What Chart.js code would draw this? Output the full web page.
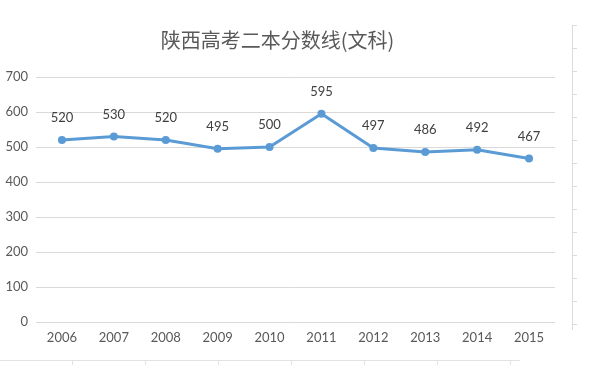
<!DOCTYPE html>
<html>
<head>
<meta charset="utf-8">
<script src="https://cdn.jsdelivr.net/npm/chart.js@4"></script>
<style>
  html, body { margin: 0; padding: 0; background: #fff; }
  #wrap { position: relative; width: 616px; height: 389px; overflow: hidden; }
  #box { position: absolute; left: 0; top: 0; width: 567px; height: 389px; }
  /* spreadsheet cell borders around the chart */
  #vline { position: absolute; left: 572px; top: 25px; width: 1px; height: 305px; background: #dcdcdc; }
  #hline { position: absolute; left: 0; top: 360px; width: 520px; height: 1px; background: #e2e2e2; }
</style>
</head>
<body>
<div id="wrap">
  <div id="box"><canvas id="chart"></canvas></div>
  <div id="vline"></div>
  <div id="hline"></div>
</div>
<script>
// data
const years = ['2006', '2007', '2008', '2009', '2010', '2011', '2012', '2013', '2014', '2015'];
const scores = [520, 530, 520, 495, 500, 595, 497, 486, 492, 467];
const yTicks = [0, 100, 200, 300, 400, 500, 600, 700];

const fontFamily = 'Lato, "Noto Sans", "Noto Sans CJK SC", sans-serif';

// little tick marks on the spreadsheet borders
(function() {
    const wrap = document.getElementById('wrap');
    for (let y = 25; y < 330; y += 23) {
        const t = document.createElement('div');
        t.style.cssText = 'position:absolute;left:572px;width:5px;height:1px;background:#dcdcdc;top:' + y + 'px';
        wrap.appendChild(t);
    }
    for (let x = 72; x < 520; x += 73) {
        const t = document.createElement('div');
        t.style.cssText = 'position:absolute;top:360px;width:1px;height:5px;background:#e2e2e2;left:' + x + 'px';
        wrap.appendChild(t);
    }
})();

// values written above each point
const valueLabels = {
    id: 'valueLabels',
    afterDatasetsDraw(chart) {
        const ctx = chart.ctx;
        const meta = chart.getDatasetMeta(0);
        ctx.save();
        ctx.font = '13px ' + fontFamily;
        ctx.fillStyle = '#404040';
        ctx.textAlign = 'center';
        ctx.textBaseline = 'middle';
        meta.data.forEach((pt, i) => {
            ctx.fillText(String(chart.data.datasets[0].data[i]), pt.x, pt.y - 22);
        });
        ctx.restore();
    }
};

const ctx = document.getElementById('chart').getContext('2d');
new Chart(ctx, {
    type: 'line',
    data: {
        labels: years,
        datasets: [{
            label: '二本分数线',
            data: scores,
            borderColor: '#5b9bd5',
            backgroundColor: '#5b9bd5',
            borderWidth: 3,
            pointRadius: 4,
            pointBorderWidth: 0,
            tension: 0
        }]
    },
    options: {
        responsive: true,
        maintainAspectRatio: false,
        animation: false,
        layout: { padding: { left: 0, right: 12, top: 0, bottom: 37 } },
        plugins: {
            legend: { display: false },
            tooltip: { enabled: false },
            title: {
                display: true,
                text: '陕西高考二本分数线(文科)',
                color: '#595959',
                font: { family: '"Noto Sans CJK SC", sans-serif', size: 20, weight: 'normal' },
                padding: { top: 28, bottom: 25 }
            }
        },
        scales: {
            x: {
                offset: true,
                grid: { display: false, drawTicks: false },
                border: { display: false },
                ticks: { color: '#595959', font: { family: fontFamily, size: 13 }, padding: 8, maxRotation: 0 },
                afterFit(scale) { scale.height = 30; }
            },
            y: {
                min: 0,
                max: 700,
                afterBuildTicks(scale) { scale.ticks = yTicks.map(v => ({ value: v })); },
                grid: { color: '#d9d9d9', lineWidth: 1, drawTicks: false },
                border: { display: false },
                ticks: { color: '#595959', font: { family: fontFamily, size: 13 }, padding: 8 },
                afterFit(scale) { scale.width = 36; }
            }
        }
    },
    plugins: [valueLabels]
});
</script>
</body>
</html>
